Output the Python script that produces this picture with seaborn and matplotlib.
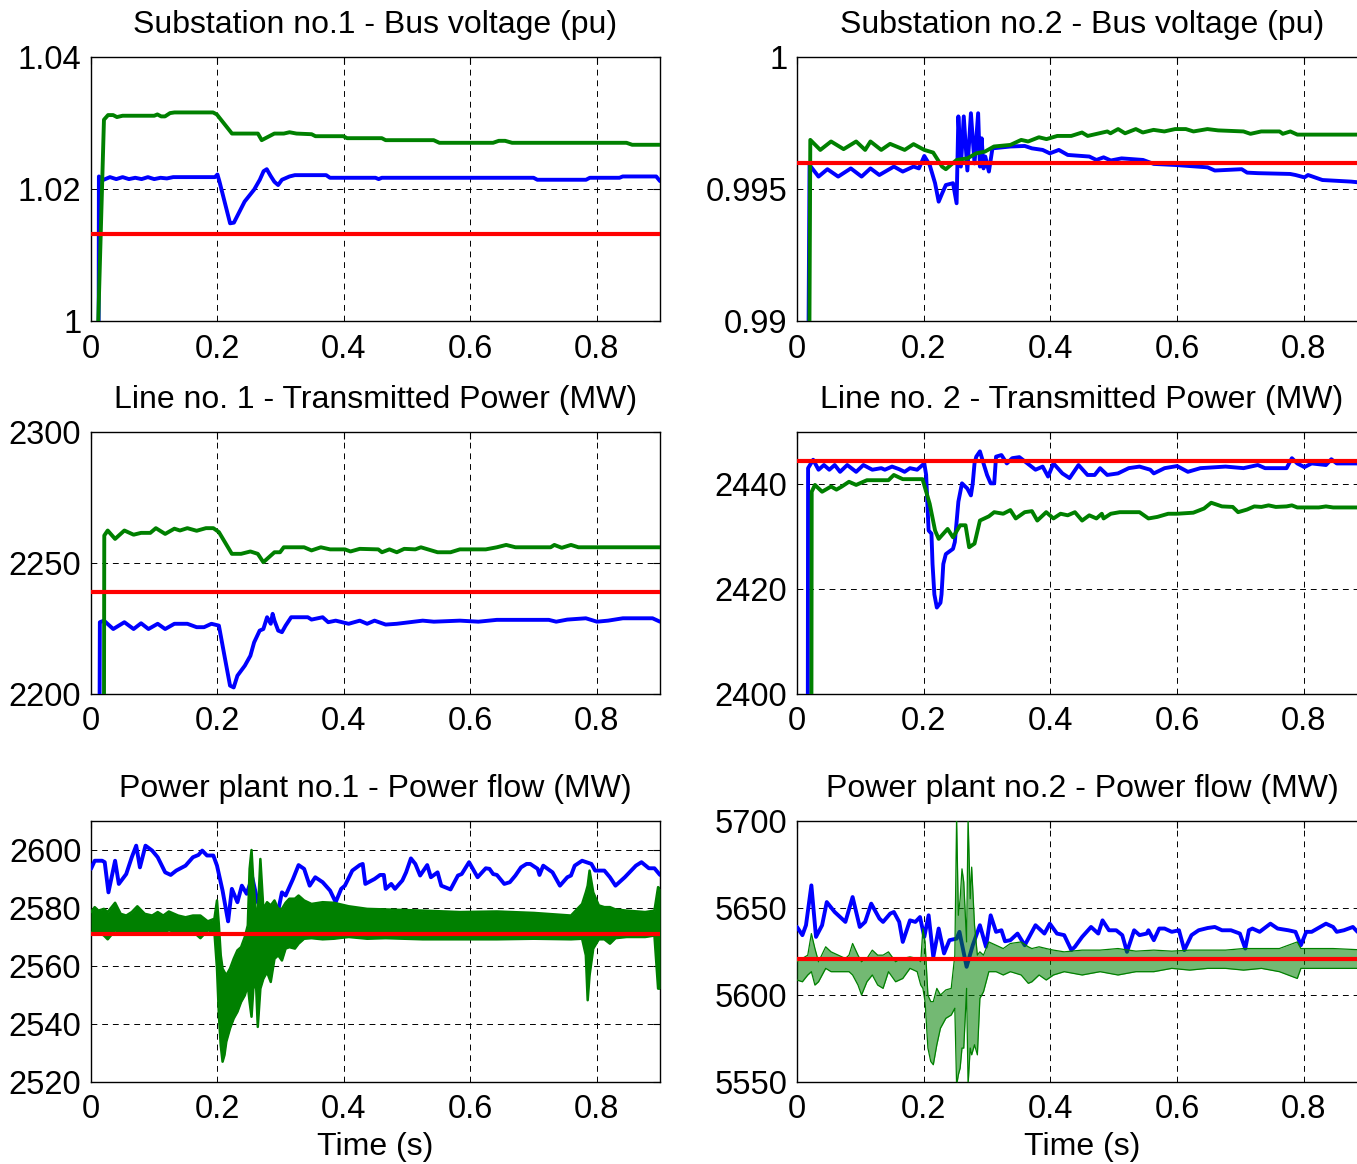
import matplotlib
matplotlib.use("Agg")
import matplotlib.pyplot as plt
import seaborn as sns

# ---------------- data (time s, value) ----------------
p1_blue = [(0.012, 0.995), (0.0125, 1.0219), (0.020, 1.0214), (0.030, 1.0218), (0.040, 1.0215), (0.050, 1.0218),
           (0.060, 1.0215), (0.070, 1.0217), (0.080, 1.0215), (0.090, 1.0218), (0.100, 1.0215), (0.110, 1.0217),
           (0.120, 1.0216), (0.130, 1.0218), (0.196, 1.0218), (0.200, 1.0222), (0.203, 1.0212), (0.220, 1.0148),
           (0.226, 1.0149), (0.243, 1.0181), (0.258, 1.0199), (0.267, 1.0214), (0.273, 1.0227), (0.278, 1.0230),
           (0.284, 1.0220), (0.290, 1.0211), (0.296, 1.0206), (0.302, 1.0214), (0.314, 1.0219), (0.3225, 1.0221),
           (0.372, 1.0221), (0.378, 1.0217), (0.450, 1.0217), (0.455, 1.0215), (0.460, 1.0217), (0.700, 1.0217),
           (0.706, 1.0214), (0.783, 1.0214), (0.789, 1.0217), (0.836, 1.0217), (0.841, 1.0219), (0.894, 1.0219),
           (0.900, 1.0212)]
p1_green = [(0.010, 0.995), (0.0205, 1.0305), (0.027, 1.0312), (0.035, 1.0312), (0.041, 1.0309), (0.050, 1.0311),
            (0.100, 1.0311), (0.105, 1.0313), (0.111, 1.0310), (0.117, 1.0310), (0.125, 1.0315), (0.132, 1.0316),
            (0.193, 1.0316), (0.199, 1.0313), (0.223, 1.0284), (0.264, 1.0284), (0.270, 1.0274), (0.276, 1.0277),
            (0.290, 1.0284), (0.305, 1.0284), (0.314, 1.0286), (0.325, 1.0284), (0.349, 1.0283), (0.355, 1.0280),
            (0.399, 1.0280), (0.405, 1.0277), (0.460, 1.0277), (0.466, 1.0274), (0.542, 1.0274), (0.551, 1.0270),
            (0.636, 1.0270), (0.645, 1.0273), (0.655, 1.0273), (0.666, 1.0270), (0.847, 1.0270), (0.856, 1.0267),
            (0.900, 1.0267)]
p1_ref = 1.0132

p2_blue = [(0.017, 0.985), (0.0198, 0.99591), (0.034, 0.99547), (0.048, 0.99575), (0.065, 0.99547), (0.085, 0.99578),
           (0.102, 0.99547), (0.116, 0.99578), (0.130, 0.99553), (0.153, 0.99585), (0.167, 0.99566), (0.184, 0.99585),
           (0.1925, 0.99578), (0.201, 0.99625), (0.2095, 0.99591), (0.218, 0.99522), (0.2237, 0.99452), (0.2293, 0.99484),
           (0.235, 0.99515), (0.2463, 0.99522), (0.252, 0.99446), (0.2548, 0.99775), (0.2588, 0.99585), (0.2633, 0.99775),
           (0.269, 0.99570), (0.2746, 0.99787), (0.2803, 0.99597), (0.286, 0.99787), (0.2888, 0.99585), (0.2916, 0.99692),
           (0.2945, 0.99578), (0.2973, 0.99623), (0.303, 0.99566), (0.3086, 0.99654), (0.337, 0.99661), (0.3596, 0.99663),
           (0.3709, 0.99654), (0.3879, 0.99648), (0.3992, 0.99635), (0.4134, 0.99648), (0.4275, 0.99629), (0.4615, 0.99623),
           (0.4728, 0.99610), (0.4841, 0.99620), (0.4955, 0.99608), (0.5125, 0.99616), (0.5464, 0.99610), (0.5634, 0.99595),
           (0.5974, 0.99591), (0.620, 0.99587), (0.6484, 0.99582), (0.6597, 0.99570), (0.7022, 0.99575), (0.7107, 0.99562),
           (0.7276, 0.99560), (0.7786, 0.99557), (0.7871, 0.99553), (0.8012, 0.99544), (0.8069, 0.99553), (0.8296, 0.99534),
           (0.8749, 0.99528), (0.900, 0.99522)]
p2_green = [(0.0187, 0.985), (0.021, 0.99686), (0.0368, 0.99648), (0.0538, 0.99680), (0.0736, 0.99651), (0.0934, 0.99680),
            (0.1076, 0.99648), (0.116, 0.99680), (0.133, 0.99648), (0.147, 0.99671), (0.170, 0.99648), (0.184, 0.99670),
            (0.201, 0.99648), (0.215, 0.99638), (0.229, 0.99585), (0.235, 0.99575), (0.252, 0.99610), (0.269, 0.99616),
            (0.283, 0.99635), (0.297, 0.99642), (0.311, 0.99661), (0.337, 0.99667), (0.354, 0.99686), (0.365, 0.99680),
            (0.382, 0.99696), (0.394, 0.99689), (0.411, 0.99701), (0.433, 0.99701), (0.450, 0.99714), (0.459, 0.99701),
            (0.490, 0.99718), (0.495, 0.99711), (0.507, 0.99727), (0.518, 0.99711), (0.535, 0.99727), (0.546, 0.99714),
            (0.563, 0.99724), (0.580, 0.99718), (0.597, 0.99727), (0.614, 0.99727), (0.626, 0.99718), (0.648, 0.99727),
            (0.665, 0.99722), (0.705, 0.99718), (0.716, 0.99709), (0.733, 0.99718), (0.762, 0.99718), (0.767, 0.99709),
            (0.779, 0.99718), (0.790, 0.99706), (0.900, 0.99706)]
p2_ref = 0.99598

p3_blue = [(0.0135, 2190), (0.0140, 2227.4), (0.0205, 2228.0), (0.0352, 2224.8), (0.0528, 2227.4), (0.0674, 2224.8),
           (0.0792, 2227.0), (0.0909, 2224.8), (0.1055, 2226.8), (0.1173, 2224.8), (0.1319, 2226.8), (0.1524, 2226.8),
           (0.1671, 2225.5), (0.1788, 2225.5), (0.1905, 2226.8), (0.2023, 2226.1), (0.2111, 2214.6), (0.2199, 2203.2),
           (0.2257, 2202.5), (0.2316, 2207.0), (0.2433, 2210.8), (0.2521, 2214.6), (0.258, 2219.7), (0.2668, 2224.2),
           (0.2726, 2224.8), (0.2785, 2229.3), (0.2843, 2226.8), (0.2873, 2230.6), (0.2902, 2228.0), (0.2961, 2224.2),
           (0.302, 2223.6), (0.3078, 2226.1), (0.3166, 2229.3), (0.343, 2229.3), (0.3488, 2228.4), (0.3664, 2229.3),
           (0.3752, 2227.4), (0.387, 2228.0), (0.4075, 2226.8), (0.4251, 2228.0), (0.4368, 2226.8), (0.4485, 2228.0),
           (0.4661, 2226.5), (0.4837, 2226.8), (0.5247, 2228.0), (0.5423, 2227.6), (0.5834, 2228.0), (0.6127, 2227.6),
           (0.642, 2228.3), (0.7241, 2228.3), (0.7358, 2227.6), (0.7534, 2228.4), (0.7827, 2228.9), (0.8003, 2227.6),
           (0.8179, 2228.0), (0.8413, 2228.9), (0.8882, 2228.9), (0.900, 2227.6)]
p3_green = [(0.0205, 2190), (0.0210, 2260.5), (0.0264, 2262.4), (0.0381, 2259.2), (0.0528, 2262.4), (0.0674, 2260.8),
            (0.0792, 2261.5), (0.0938, 2261.5), (0.1026, 2263.3), (0.1173, 2261.1), (0.1319, 2263.1), (0.1407, 2262.4),
            (0.1524, 2263.3), (0.1671, 2262.3), (0.1818, 2263.3), (0.1935, 2263.3), (0.2023, 2261.8), (0.2228, 2253.5),
            (0.2374, 2253.5), (0.2521, 2254.4), (0.2638, 2253.5), (0.2726, 2250.3), (0.2902, 2254.1), (0.299, 2254.1),
            (0.3049, 2256.0), (0.3371, 2256.0), (0.3488, 2254.8), (0.3635, 2256.0), (0.3782, 2255.2), (0.4016, 2255.2),
            (0.4104, 2254.4), (0.4251, 2255.4), (0.4544, 2255.2), (0.4602, 2254.1), (0.472, 2255.2), (0.4837, 2254.1),
            (0.4954, 2255.4), (0.513, 2255.2), (0.5218, 2256.0), (0.5482, 2254.1), (0.5687, 2254.1), (0.5834, 2255.2),
            (0.6244, 2255.2), (0.642, 2256.0), (0.6567, 2256.9), (0.6713, 2256.0), (0.727, 2256.0), (0.7329, 2256.9),
            (0.7446, 2255.8), (0.7592, 2256.9), (0.771, 2256.0), (0.900, 2256.0)]
p3_ref = 2239.0

p4_blue = [(0.017, 2390), (0.0175, 2443.1), (0.0255, 2444.7), (0.034, 2442.8), (0.0425, 2443.7), (0.051, 2442.8),
           (0.0595, 2443.7), (0.068, 2442.4), (0.0793, 2443.7), (0.0934, 2442.4), (0.1048, 2443.7), (0.1189, 2442.8),
           (0.1331, 2443.1), (0.1387, 2442.8), (0.1501, 2443.4), (0.1614, 2442.9), (0.1699, 2442.4), (0.1784, 2443.1),
           (0.1897, 2442.8), (0.201, 2444.0), (0.2039, 2441.8), (0.2078, 2431.2), (0.2123, 2430.6), (0.214, 2424.8),
           (0.2169, 2419.0), (0.2208, 2416.5), (0.2265, 2417.4), (0.2282, 2419.0), (0.231, 2424.8), (0.235, 2426.7),
           (0.2463, 2427.7), (0.2492, 2429.0), (0.2548, 2436.7), (0.2605, 2440.2), (0.269, 2439.2), (0.2746, 2437.9),
           (0.2775, 2440.2), (0.2803, 2444.0), (0.2831, 2445.3), (0.2888, 2446.3), (0.2945, 2444.0), (0.3001, 2441.8),
           (0.3058, 2440.2), (0.3114, 2440.2), (0.3143, 2445.3), (0.3228, 2445.6), (0.3313, 2444.0), (0.3398, 2445.0),
           (0.3511, 2445.2), (0.3596, 2444.4), (0.3766, 2442.8), (0.3879, 2443.4), (0.3964, 2441.5), (0.4049, 2444.0),
           (0.419, 2442.1), (0.4304, 2441.2), (0.4445, 2443.7), (0.4587, 2441.8), (0.470, 2441.8), (0.4785, 2443.1),
           (0.4898, 2441.8), (0.5068, 2442.1), (0.5238, 2443.1), (0.5408, 2443.4), (0.5578, 2442.8), (0.5634, 2442.1),
           (0.5804, 2443.1), (0.6002, 2443.5), (0.6172, 2442.4), (0.637, 2443.1), (0.6767, 2443.4), (0.705, 2443.1),
           (0.7276, 2443.7), (0.739, 2443.1), (0.773, 2443.1), (0.7814, 2445.0), (0.7899, 2444.0), (0.8012, 2443.3),
           (0.8126, 2444.0), (0.8352, 2443.7), (0.8437, 2444.8), (0.8522, 2444.0), (0.900, 2444.0)]
p4_green = [(0.0227, 2390), (0.0232, 2438.6), (0.0283, 2439.9), (0.0396, 2438.6), (0.0538, 2439.6), (0.0623, 2439.0),
            (0.0708, 2439.6), (0.0821, 2440.5), (0.0934, 2439.9), (0.1104, 2440.8), (0.1444, 2440.8), (0.1529, 2441.8),
            (0.167, 2441.0), (0.1982, 2441.0), (0.2095, 2436.3), (0.218, 2431.2), (0.2237, 2429.6), (0.2378, 2431.5),
            (0.2463, 2429.9), (0.2576, 2432.2), (0.2661, 2432.2), (0.2718, 2428.0), (0.2803, 2428.7), (0.2888, 2433.1),
            (0.3029, 2433.9), (0.3114, 2434.7), (0.3256, 2434.4), (0.3369, 2435.1), (0.3454, 2433.5), (0.3596, 2434.7),
            (0.3709, 2434.9), (0.3794, 2433.1), (0.3935, 2434.7), (0.4049, 2433.5), (0.4162, 2434.4), (0.4275, 2434.1),
            (0.4388, 2434.7), (0.4502, 2433.1), (0.4615, 2434.1), (0.4728, 2433.5), (0.4813, 2434.4), (0.4841, 2433.5),
            (0.4955, 2434.4), (0.5096, 2434.7), (0.5408, 2434.7), (0.5549, 2433.5), (0.5691, 2433.8), (0.5861, 2434.4),
            (0.6002, 2434.4), (0.6257, 2434.6), (0.6427, 2435.4), (0.654, 2436.5), (0.671, 2435.8), (0.688, 2435.7),
            (0.6965, 2434.7), (0.7106, 2435.2), (0.722, 2435.8), (0.7333, 2435.7), (0.7446, 2436.0), (0.756, 2435.7),
            (0.773, 2435.8), (0.7814, 2436.0), (0.7899, 2435.6), (0.8239, 2435.6), (0.8352, 2435.8), (0.8465, 2435.6),
            (0.900, 2435.6)]
p4_ref = 2444.4

p5_blue = [(0.0, 2593.5), (0.0059, 2596.3), (0.0176, 2596.3), (0.0217, 2595.8), (0.0276, 2585.4), (0.0381, 2596.3),
           (0.044, 2588.3), (0.0557, 2591.7), (0.0645, 2597.5), (0.0715, 2601.5), (0.0774, 2594.0), (0.0862, 2601.5),
           (0.0967, 2599.8), (0.1055, 2597.5), (0.1173, 2592.3), (0.1261, 2591.4), (0.1348, 2592.9), (0.1495, 2594.6),
           (0.1612, 2597.5), (0.170, 2598.3), (0.1759, 2599.8), (0.1835, 2598.1), (0.1935, 2598.1), (0.1993, 2594.6),
           (0.2081, 2586.0), (0.2152, 2577.4), (0.2169, 2575.4), (0.2228, 2586.6), (0.2316, 2582.0), (0.2386, 2587.7),
           (0.2462, 2584.9), (0.255, 2590.6), (0.2638, 2582.0), (0.2726, 2578.6), (0.2902, 2578.6), (0.2961, 2579.1),
           (0.302, 2585.4), (0.3078, 2584.3), (0.3195, 2590.0), (0.3283, 2594.8), (0.3371, 2593.5), (0.3459, 2587.7),
           (0.3547, 2590.6), (0.3664, 2588.9), (0.3782, 2586.0), (0.387, 2582.0), (0.3957, 2586.6), (0.4016, 2587.7),
           (0.4133, 2592.9), (0.4251, 2594.8), (0.4298, 2595.2), (0.4339, 2588.3), (0.4485, 2590.0), (0.4573, 2591.4),
           (0.4632, 2591.4), (0.4661, 2586.6), (0.4749, 2588.3), (0.4808, 2586.6), (0.4925, 2589.5), (0.4984, 2592.3),
           (0.506, 2597.1), (0.513, 2595.2), (0.5206, 2591.2), (0.5318, 2594.8), (0.5376, 2590.6), (0.5482, 2592.3),
           (0.554, 2587.7), (0.5687, 2586.4), (0.5804, 2591.2), (0.5863, 2591.7), (0.598, 2595.8), (0.6115, 2590.6),
           (0.6244, 2593.7), (0.6303, 2593.5), (0.6361, 2591.7), (0.642, 2591.4), (0.6537, 2588.3), (0.6625, 2588.9),
           (0.6713, 2591.2), (0.6801, 2594.0), (0.6889, 2595.2), (0.6948, 2595.2), (0.7065, 2593.5), (0.7094, 2591.4),
           (0.7153, 2594.6), (0.730, 2592.3), (0.7417, 2587.7), (0.7534, 2590.6), (0.7592, 2591.2), (0.7651, 2594.6),
           (0.7768, 2596.3), (0.7915, 2595.2), (0.7974, 2592.9), (0.812, 2592.9), (0.8208, 2590.6), (0.8296, 2587.7),
           (0.8443, 2590.6), (0.8619, 2594.6), (0.8707, 2595.8), (0.8824, 2593.7), (0.8912, 2593.7), (0.900, 2591.4)]
# green is a fast-switching trace: (time, upper envelope, lower envelope)
p5_green_band = [(0.0, 2578.6, 2571.7), (0.0059, 2580.3, 2571.1), (0.0117, 2579.1, 2571.7), (0.0205, 2579.7, 2570.5),
                 (0.0264, 2578.6, 2569.2), (0.0381, 2581.8, 2572.3), (0.0469, 2578.0, 2571.7), (0.0557, 2577.4, 2571.1),
                 (0.0645, 2578.6, 2571.7), (0.0733, 2580.6, 2571.1), (0.085, 2578.0, 2571.7), (0.0967, 2577.4, 2571.7),
                 (0.1055, 2578.6, 2571.5), (0.1143, 2577.4, 2571.7), (0.1231, 2578.8, 2572.3), (0.1378, 2577.4, 2571.7),
                 (0.1495, 2576.8, 2571.7), (0.1612, 2577.4, 2571.9), (0.173, 2577.4, 2569.6), (0.1847, 2575.4, 2572.3),
                 (0.1952, 2576.3, 2571.7), (0.1993, 2582.6, 2559.1), (0.2023, 2574.0, 2543.0), (0.2052, 2563.7, 2532.7),
                 (0.2081, 2559.1, 2527.0), (0.2111, 2557.9, 2529.3), (0.214, 2556.8, 2533.9), (0.2199, 2559.1, 2538.5),
                 (0.2257, 2562.5, 2541.9), (0.2316, 2565.4, 2544.2), (0.2374, 2566.5, 2547.6), (0.2433, 2570.0, 2549.9),
                 (0.248, 2574.0, 2553.4), (0.2509, 2593.5, 2547.6), (0.2539, 2600.0, 2542.5), (0.2568, 2588.9, 2552.2),
                 (0.2609, 2578.6, 2554.5), (0.2638, 2577.4, 2539.0), (0.2679, 2596.9, 2552.2), (0.2726, 2579.7, 2555.6),
                 (0.2785, 2582.0, 2557.9), (0.2843, 2580.9, 2554.5), (0.2902, 2582.6, 2562.5), (0.2961, 2579.7, 2563.7),
                 (0.302, 2579.7, 2561.9), (0.3078, 2581.8, 2566.0), (0.3137, 2583.2, 2566.5), (0.3225, 2583.2, 2566.0),
                 (0.3283, 2584.3, 2567.7), (0.3371, 2582.6, 2569.4), (0.3488, 2581.4, 2569.6), (0.3664, 2582.0, 2569.2),
                 (0.384, 2581.8, 2569.4), (0.4075, 2580.6, 2570.0), (0.4368, 2579.7, 2569.4), (0.4661, 2579.5, 2569.6),
                 (0.5247, 2579.1, 2569.2), (0.5834, 2578.6, 2569.2), (0.642, 2578.8, 2569.2), (0.7006, 2578.3, 2569.4),
                 (0.7592, 2577.4, 2569.2), (0.7768, 2581.4, 2569.4), (0.7827, 2585.4, 2563.7), (0.7856, 2587.7, 2548.2),
                 (0.7886, 2592.9, 2556.8), (0.7944, 2585.4, 2566.0), (0.8032, 2580.9, 2569.2), (0.812, 2580.3, 2569.2),
                 (0.8208, 2580.3, 2567.7), (0.8296, 2579.5, 2569.6), (0.8472, 2579.1, 2570.0), (0.8765, 2578.6, 2570.0),
                 (0.8912, 2579.1, 2570.5), (0.897, 2587.2, 2552.2), (0.900, 2586.6, 2552.2)]
p5_ref = 2571.0

p6_blue = [(0.0, 5639.1), (0.0085, 5634.4), (0.0142, 5640.1), (0.0227, 5663.0), (0.030, 5633.4), (0.0396, 5640.1),
           (0.047, 5653.4), (0.0595, 5647.7), (0.0764, 5642.0), (0.0878, 5656.3), (0.0991, 5639.1), (0.1076, 5642.0),
           (0.1172, 5652.5), (0.1302, 5643.9), (0.1359, 5642.0), (0.1472, 5646.8), (0.1529, 5647.7), (0.1614, 5642.0),
           (0.167, 5630.5), (0.1784, 5642.9), (0.1869, 5642.0), (0.1942, 5644.8), (0.201, 5633.4), (0.2078, 5645.8),
           (0.2152, 5621.9), (0.2237, 5638.2), (0.2322, 5623.9), (0.2407, 5631.5), (0.252, 5632.4), (0.2565, 5636.3),
           (0.2678, 5616.2), (0.2775, 5628.6), (0.2888, 5640.1), (0.2984, 5627.7), (0.3058, 5645.8), (0.3143, 5636.3),
           (0.3228, 5637.2), (0.3284, 5630.9), (0.3369, 5631.5), (0.3482, 5635.3), (0.3596, 5628.6), (0.3766, 5640.1),
           (0.3907, 5635.3), (0.3992, 5641.0), (0.4105, 5635.3), (0.4219, 5634.4), (0.4332, 5625.8), (0.4388, 5627.7),
           (0.4502, 5633.4), (0.4643, 5639.1), (0.4757, 5635.3), (0.4824, 5642.9), (0.4926, 5637.2), (0.504, 5637.2),
           (0.5136, 5634.4), (0.521, 5624.8), (0.5323, 5637.2), (0.5408, 5634.4), (0.5521, 5635.3), (0.5549, 5637.2),
           (0.5634, 5631.5), (0.5719, 5638.2), (0.5804, 5638.2), (0.5917, 5636.3), (0.6031, 5637.2), (0.6116, 5625.8),
           (0.6229, 5634.4), (0.6342, 5637.2), (0.6484, 5638.5), (0.6597, 5639.1), (0.671, 5637.2), (0.6852, 5637.2),
           (0.6993, 5635.3), (0.7078, 5626.7), (0.7135, 5637.2), (0.7191, 5638.2), (0.7305, 5636.3), (0.7475, 5641.0),
           (0.7588, 5638.2), (0.7758, 5637.2), (0.7871, 5636.3), (0.7956, 5628.6), (0.8041, 5636.3), (0.8126, 5636.3),
           (0.8352, 5641.0), (0.8465, 5639.1), (0.8522, 5636.3), (0.8635, 5637.2), (0.8777, 5639.1), (0.885, 5636.3),
           (0.900, 5637.2)]
p6_green_band = [(0.0, 5619.1, 5608.6), (0.0085, 5621.0, 5607.6), (0.017, 5622.9, 5611.5), (0.0227, 5635.3, 5613.4),
                 (0.0283, 5626.7, 5605.7), (0.034, 5619.1, 5607.6), (0.0453, 5627.7, 5615.3), (0.0538, 5624.8, 5613.4),
                 (0.0651, 5622.9, 5613.4), (0.0764, 5621.0, 5613.4), (0.0821, 5622.9, 5613.4), (0.0878, 5629.6, 5611.5),
                 (0.0963, 5622.9, 5605.7), (0.1019, 5619.1, 5600.0), (0.1104, 5621.0, 5607.6), (0.1189, 5625.8, 5611.5),
                 (0.1274, 5622.9, 5605.7), (0.1359, 5622.9, 5603.8), (0.1444, 5624.8, 5613.4), (0.1557, 5619.1, 5607.6),
                 (0.167, 5621.0, 5609.5), (0.1784, 5621.9, 5615.3), (0.1897, 5621.0, 5613.4), (0.1954, 5619.1, 5605.7),
                 (0.1988, 5638.2, 5603.8), (0.2022, 5630.5, 5596.2), (0.2067, 5600.0, 5569.5), (0.2112, 5596.2, 5561.8),
                 (0.2152, 5596.2, 5559.9), (0.2208, 5603.8, 5571.4), (0.2265, 5600.0, 5580.9), (0.235, 5602.9, 5586.6),
                 (0.2435, 5603.8, 5588.5), (0.2492, 5622.9, 5592.4), (0.252, 5702.0, 5548.0), (0.2548, 5645.8, 5554.2),
                 (0.2576, 5655.3, 5558.0), (0.2605, 5672.5, 5569.5), (0.2633, 5664.9, 5569.5), (0.2678, 5630.5, 5603.8),
                 (0.2701, 5702.0, 5548.0), (0.2735, 5655.3, 5569.5), (0.2758, 5673.5, 5565.6), (0.2803, 5640.1, 5571.4),
                 (0.2848, 5622.9, 5565.6), (0.2888, 5624.8, 5598.1), (0.2945, 5622.9, 5601.9), (0.3029, 5630.5, 5613.4),
                 (0.3143, 5628.6, 5613.4), (0.3256, 5626.7, 5611.5), (0.3369, 5629.6, 5613.4), (0.3539, 5630.5, 5611.5),
                 (0.3652, 5627.7, 5606.7), (0.3709, 5626.7, 5607.6), (0.3822, 5627.7, 5611.5), (0.3935, 5626.7, 5608.6),
                 (0.4049, 5625.8, 5611.5), (0.4219, 5624.8, 5613.4), (0.4502, 5625.8, 5611.5), (0.4785, 5625.8, 5613.4),
                 (0.5068, 5626.7, 5611.5), (0.5351, 5625.2, 5613.4), (0.5634, 5625.8, 5613.4), (0.5917, 5625.2, 5615.3),
                 (0.620, 5625.8, 5614.3), (0.6484, 5625.8, 5615.3), (0.6767, 5625.8, 5615.3), (0.705, 5626.7, 5614.3),
                 (0.7333, 5626.7, 5615.3), (0.7616, 5626.7, 5613.4), (0.7899, 5630.5, 5609.5), (0.7956, 5626.7, 5615.3),
                 (0.8182, 5626.7, 5615.3), (0.8465, 5626.7, 5615.3), (0.900, 5625.8, 5615.3)]
p6_ref = 5620.5

titles = ["Substation no.1 - Bus voltage (pu)", "Substation no.2 - Bus voltage (pu)",
          "Line no. 1 - Transmitted Power (MW)", "Line no. 2 - Transmitted Power (MW)",
          "Power plant no.1 - Power flow (MW)", "Power plant no.2 - Power flow (MW)"]
x_ticks = [0, 0.2, 0.4, 0.6, 0.8]
x_ticklabels = ["0", "0.2", "0.4", "0.6", "0.8"]
y_ticks = [[1.0, 1.02, 1.04], [0.99, 0.995, 1.0], [2200, 2250, 2300],
           [2400, 2420, 2440], [2520, 2540, 2560, 2580, 2600], [5550, 5600, 5650, 5700]]
y_ticklabels = [["1", "1.02", "1.04"], ["0.99", "0.995", "1"], ["2200", "2250", "2300"],
                ["2400", "2420", "2440"], ["2520", "2540", "2560", "2580", "2600"],
                ["5550", "5600", "5650", "5700"]]
y_limits = [(1.0, 1.04), (0.99, 1.0), (2200, 2300), (2400, 2450), (2520, 2610), (5550, 5700)]
x_label = "Time (s)"

# ---------------- style ----------------
sns.set_theme(style="white")
plt.rcParams['font.family'] = ['Liberation Sans', 'DejaVu Sans']
plt.rcParams['font.size'] = 23
plt.rcParams['axes.edgecolor'] = 'black'
plt.rcParams['axes.linewidth'] = 1.0

BLUE, GREEN, RED = (0, 0, 1), (0, 0.5, 0), (1, 0, 0)
FS = 23
TICK_FS = 23.5
LW = 2.8
W, H = 1357, 1164

fig = plt.figure(figsize=(W / 100, H / 100), dpi=100)


def rect(x0, y0, x1, y1):
    return [x0 / W, 1 - y1 / H, (x1 - x0) / W, (y1 - y0) / H]


boxes = [rect(91, 57, 660, 321), rect(797, 57, 1367, 321),
         rect(91, 432, 660, 694), rect(797, 432, 1367, 694),
         rect(91, 821, 660, 1082), rect(797, 821, 1367, 1082)]

lines_blue = [p1_blue, p2_blue, p3_blue, p4_blue, p5_blue, p6_blue]
lines_green = [p1_green, p2_green, p3_green, p4_green, None, None]
bands_green = [None, None, None, None, p5_green_band, p6_green_band]
refs = [p1_ref, p2_ref, p3_ref, p4_ref, p5_ref, p6_ref]

for i in range(6):
    ax = fig.add_axes(boxes[i])
    ax.set_facecolor('white')
    bt, bv = zip(*lines_blue[i])
    sns.lineplot(x=list(bt), y=list(bv), ax=ax, color=BLUE, linewidth=LW,
                 estimator=None, sort=False, legend=False, zorder=3)
    if lines_green[i] is not None:
        gt, gv = zip(*lines_green[i])
        sns.lineplot(x=list(gt), y=list(gv), ax=ax, color=GREEN, linewidth=LW,
                     estimator=None, sort=False, legend=False, zorder=4)
    if bands_green[i] is not None:
        gt, ghi, glo = zip(*bands_green[i])
        if i == 4:
            ax.fill_between(gt, glo, ghi, color=GREEN, linewidth=0, zorder=4)
            edge_lw = 1.8
        else:
            ax.fill_between(gt, glo, ghi, color=GREEN, alpha=0.55, linewidth=0, zorder=4)
            edge_lw = 0.9
        sns.lineplot(x=list(gt), y=list(ghi), ax=ax, color=GREEN, linewidth=edge_lw,
                     estimator=None, sort=False, legend=False, zorder=4)
        sns.lineplot(x=list(gt), y=list(glo), ax=ax, color=GREEN, linewidth=edge_lw,
                     estimator=None, sort=False, legend=False, zorder=4)
    ax.axhline(refs[i], color=RED, linewidth=3.0, zorder=5)

    ax.set_xlim(0, 0.9)
    ax.set_ylim(*y_limits[i])
    ax.set_xticks(x_ticks)
    ax.set_xticklabels(x_ticklabels)
    ax.set_yticks(y_ticks[i])
    ax.set_yticklabels(y_ticklabels[i])
    ax.set_xlabel("")
    ax.set_ylabel("")
    ax.grid(True, color='black', linestyle=(0, (6, 5)), linewidth=0.7)
    ax.set_axisbelow(True)
    ax.tick_params(direction='in', length=5, width=0.8, top=True, right=True,
                   labelsize=TICK_FS, colors='black')
    ax.tick_params(axis='x', pad=9)
    ax.tick_params(axis='y', pad=7)
    for sp in ax.spines.values():
        sp.set_color('black')
        sp.set_linewidth(1.0)
    ax.set_title(titles[i], fontsize=FS, pad=17, color='black')
    if i >= 4:
        ax.set_xlabel(x_label, fontsize=FS, labelpad=5, color='black')

fig.savefig("out.png", dpi=100)
